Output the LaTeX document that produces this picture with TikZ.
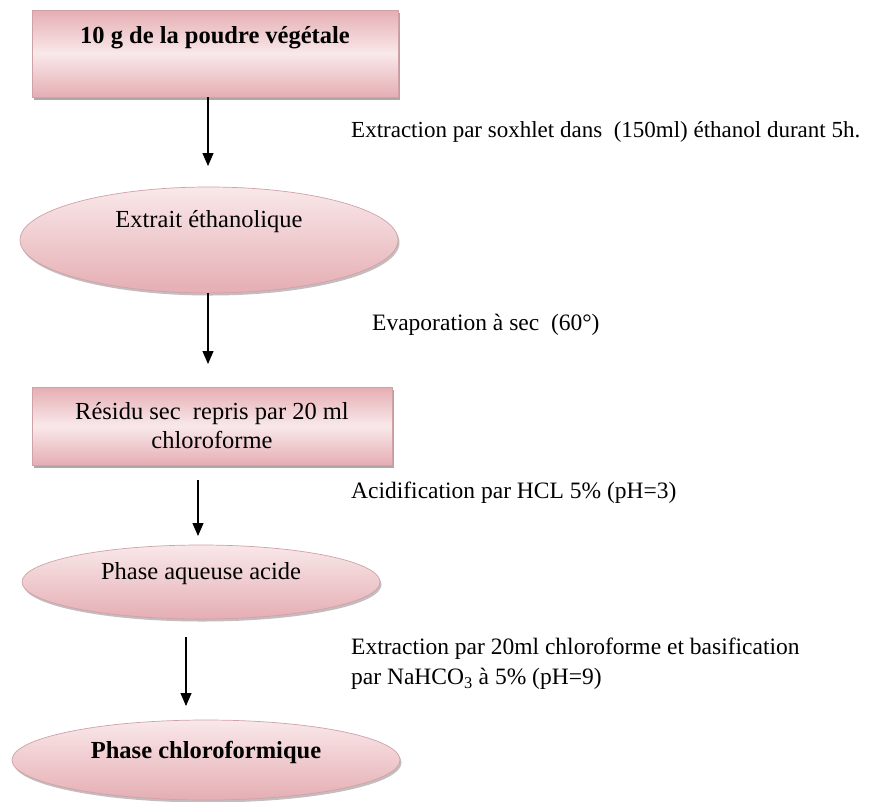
\documentclass[tikz,border=0pt]{standalone}
\usepackage{fontspec}
\setmainfont{Liberation Serif}
\usetikzlibrary{shapes.geometric,arrows.meta,shadows}
\definecolor{roseEdge}{HTML}{CFA2A7}
\definecolor{roseDark}{HTML}{E5AEB3}
\definecolor{roseLight}{HTML}{F9E8EA}
\definecolor{shadowGray}{HTML}{9C9092}
\begin{document}
\begin{tikzpicture}[x=1pt,y=-1pt,
  font=\fontsize{24.5}{29}\selectfont,
  stepbox/.style={draw=roseEdge, line width=0.7pt, rectangle, inner sep=0pt,
    top color=roseDark, bottom color=roseDark, middle color=roseLight,
    drop shadow={shadow xshift=2pt, shadow yshift=-3pt, fill=shadowGray, opacity=0.8}},
  stepoval/.style={draw=roseEdge, line width=0.7pt, ellipse, inner sep=0pt,
    top color=roseLight, bottom color=roseDark,
    drop shadow={shadow xshift=1.5pt, shadow yshift=-2.5pt, fill=shadowGray, opacity=0.6}},
  flow/.style={-{Triangle[width=11pt,length=13pt]}, line width=1.1pt, black},
  note/.style={anchor=west, inner sep=0pt, align=left, font=\fontsize{23.5}{30}\selectfont}
]
\useasboundingbox (0,0) rectangle (875,801);

% process steps
\node[stepbox, minimum width=366pt, minimum height=87pt] (b1) at (215,53.5) {};
\node (t1) at (215,38) {\bfseries 10 g de la poudre végétale};

\node[stepoval, minimum width=378pt, minimum height=106pt] (e1) at (209,240) {};
\node (t2) at (209,222) {Extrait éthanolique};

\node[stepbox, minimum width=360pt, minimum height=78pt, align=center] (b2) at (212,426)
  {Résidu sec\ \ repris par 20 ml\\chloroforme};

\node[stepoval, minimum width=358pt, minimum height=74pt] (e3) at (201,582) {};
\node (t3) at (201,574) {Phase aqueuse acide};

\node[stepoval, minimum width=388pt, minimum height=80pt] (e4) at (206,760) {};
\node (t4) at (206,752) {\bfseries Phase chloroformique};

% arrow ends that stop short of the next step
\coordinate (a1) at (208,166);
\coordinate (a2) at (208,364);
\coordinate (a3) at (198,536);
\coordinate (a4top) at (186,637);
\coordinate (a4) at (186,706);

\draw[flow] (b1.south -| a1) -- (a1);
\draw[flow] (e1.south -| a2) -- (a2);
\draw[flow] (198,480) coordinate (a3top) -- (a3);
\draw[flow] (a4top) -- (a4);

% operating conditions
\node[note, font=\fontsize{23}{28}\selectfont] (n1) at (351,132) {Extraction par soxhlet dans\ \ (150ml) éthanol durant 5h.};
\node[note] (n2) at (372,325) {Evaporation à sec\ \ (60°)};
\node[note] (n3) at (351,493) {Acidification par HCL 5\% (pH=3)};
\node[note] (n4) at (351,664) {Extraction par 20ml chloroforme et basification\\par NaHCO\textsubscript{3} à 5\% (pH=9)};
\end{tikzpicture}
\end{document}
